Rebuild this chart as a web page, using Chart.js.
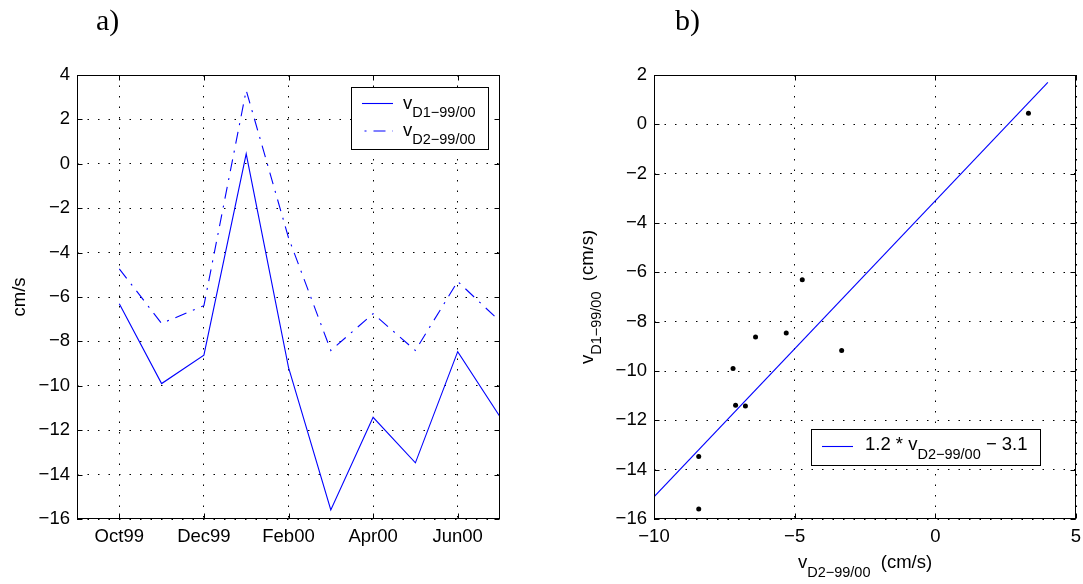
<!DOCTYPE html>
<html>
<head>
<meta charset="utf-8">
<script src="https://cdn.jsdelivr.net/npm/chart.js@4"></script>
<style>
  html, body { margin: 0; padding: 0; background: #fff; }
  body { width: 1083px; height: 584px; position: relative; overflow: hidden; }
  #ca { position: absolute; left: 0; top: 0; }
  #cb { position: absolute; left: 583px; top: 0; }
</style>
</head>
<body>
<canvas id="ca" width="583" height="584"></canvas>
<canvas id="cb" width="500" height="584"></canvas>
<script>
// Monthly velocities at the two deployments, Oct 1999 - Jul 2000 (cm/s)
const months = ['Oct99', 'Nov99', 'Dec99', 'Jan00', 'Feb00', 'Mar00', 'Apr00', 'May00', 'Jun00', 'Jul00'];
const tickMonths = ['Oct99', 'Dec99', 'Feb00', 'Apr00', 'Jun00'];
const vD1 = [-6.3, -9.9, -8.62, 0.45, -9.17, -15.59, -11.42, -13.47, -8.46, -11.39];
const vD2 = [-4.73, -7.19, -6.39, 3.31, -3.33, -8.41, -6.75, -8.41, -5.3, -7.1];

// Linear fit of D1 against D2
const fitSlope = 1.2;
const fitIntercept = -3.1;
const fitX = [-10, 4];

// Axis ranges
const yRangeA = [-16, 4];
const yRangeB = [-16, 2];
const xRangeB = [-10, 5];

const BLUE = '#0000ff';
const SANS = '"Liberation Sans", Arial, Helvetica, sans-serif';
const MAIN_SIZE = 18.5;
const SUB_SIZE = 14.5;
const MAIN = MAIN_SIZE + 'px ' + SANS;
const SUB = SUB_SIZE + 'px ' + SANS;
const SUB_DROP = 8.5;
const DASH_DOT = [12, 7, 2, 7];
const TICK_LEN = 5;

const minus = v => String(v).replace('-', '\u2212');

// Draws a run of text pieces, some of them as subscripts
function richText(ctx, runs, x, y, align) {
  let w = 0;
  runs.forEach(([t, s]) => { ctx.font = s ? SUB : MAIN; w += ctx.measureText(t).width; });
  let cx = align === 'center' ? x - w / 2 : x;
  ctx.textAlign = 'left';
  ctx.textBaseline = 'alphabetic';
  runs.forEach(([t, s]) => {
    ctx.font = s ? SUB : MAIN;
    ctx.fillText(t, cx, y + (s ? SUB_DROP : 0));
    cx += ctx.measureText(t).width;
  });
}

// Solid axes box with inward tick marks on all four sides
function drawFrame(chart) {
  const { ctx, chartArea: a, scales } = chart;
  const L = Math.round(a.left) + 0.5, R = Math.round(a.right) - 0.5;
  const T = Math.round(a.top) + 0.5, B = Math.round(a.bottom) - 0.5;
  ctx.save();
  ctx.strokeStyle = '#000';
  ctx.lineWidth = 1;
  ctx.setLineDash([]);
  ctx.beginPath();
  scales.x.ticks.forEach(t => {
    const px = Math.round(scales.x.getPixelForValue(t.value)) + 0.5;
    ctx.moveTo(px, B); ctx.lineTo(px, B - TICK_LEN);
    ctx.moveTo(px, T); ctx.lineTo(px, T + TICK_LEN);
  });
  scales.y.ticks.forEach(t => {
    const py = Math.round(scales.y.getPixelForValue(t.value)) + 0.5;
    ctx.moveTo(L, py); ctx.lineTo(L + TICK_LEN, py);
    ctx.moveTo(R, py); ctx.lineTo(R - TICK_LEN, py);
  });
  ctx.stroke();
  ctx.strokeRect(L, T, R - L, B - T);
  ctx.restore();
}

function legendBox(ctx, x, y, w, h) {
  ctx.fillStyle = '#fff';
  ctx.fillRect(x, y, w, h);
  ctx.strokeStyle = '#000';
  ctx.lineWidth = 1;
  ctx.setLineDash([]);
  ctx.strokeRect(x + 0.5, y + 0.5, w, h);
}

function sample(ctx, ds, x1, x2, y, dashOffset) {
  ctx.save();
  ctx.strokeStyle = ds.borderColor;
  ctx.lineWidth = ds.borderWidth;
  ctx.setLineDash(ds.borderDash || []);
  ctx.lineDashOffset = dashOffset || 0;
  ctx.beginPath();
  ctx.moveTo(x1, y); ctx.lineTo(x2, y);
  ctx.stroke();
  ctx.restore();
}

const gridOpts = { color: '#000', lineWidth: 1, drawTicks: false };
const borderOpts = { display: false, dash: [1.5, 9] };
const tickFont = { family: SANS, size: MAIN_SIZE };

// a) time series
const panelA = {
  id: 'panelA',
  afterDraw(chart) {
    const ctx = chart.ctx;
    const a = chart.chartArea;
    drawFrame(chart);
    ctx.save();
    // legend
    const ds = chart.data.datasets;
    legendBox(ctx, 351, 87, 137, 62);
    sample(ctx, ds[0], 362, 393, 103.5);
    sample(ctx, ds[1], 362, 393, 131, 16.5);
    ctx.fillStyle = '#000';
    richText(ctx, [['v', false], ['D1\u221299/00', true]], 403, 108.5, 'left');
    richText(ctx, [['v', false], ['D2\u221299/00', true]], 403, 135.5, 'left');
    // y-axis title
    ctx.save();
    ctx.translate(25, (a.top + a.bottom) / 2);
    ctx.rotate(-Math.PI / 2);
    richText(ctx, [['cm/s', false]], 0, 0, 'center');
    ctx.restore();
    // panel letter
    ctx.font = '30px "Liberation Serif", "Times New Roman", serif';
    ctx.textAlign = 'left';
    ctx.textBaseline = 'alphabetic';
    ctx.fillText('a)', 96, 29.5);
    ctx.restore();
  }
};

new Chart(document.getElementById('ca'), {
  type: 'line',
  data: {
    datasets: [
      { label: 'vD1', data: vD1.map((y, i) => ({ x: i, y })), borderColor: BLUE, borderWidth: 1.1,
        pointRadius: 0, fill: false, tension: 0 },
      { label: 'vD2', data: vD2.map((y, i) => ({ x: i, y })), borderColor: BLUE, borderWidth: 1.1,
        borderDash: DASH_DOT, pointRadius: 0, fill: false, tension: 0 }
    ]
  },
  options: {
    responsive: false, animation: false, devicePixelRatio: 1,
    layout: { padding: { left: 0, right: 83, top: 75, bottom: 0 } },
    plugins: { legend: { display: false }, tooltip: { enabled: false }, title: { display: false } },
    scales: {
      x: {
        type: 'linear', min: -1, max: months.length - 1,
        afterBuildTicks: s => { s.ticks = tickMonths.map(m => ({ value: months.indexOf(m) })); },
        ticks: { callback: v => months[v], font: tickFont, color: '#000', padding: 7, maxRotation: 0, autoSkip: false },
        grid: gridOpts, border: borderOpts,
        afterFit: s => { s.height = 65; s.paddingLeft = 0; s.paddingRight = 0; }
      },
      y: {
        min: yRangeA[0], max: yRangeA[1],
        ticks: { stepSize: 2, callback: minus, font: tickFont, color: '#000', padding: 7 },
        grid: gridOpts, border: borderOpts,
        afterFit: s => { s.width = 77; s.paddingTop = 0; s.paddingBottom = 0; }
      }
    }
  },
  plugins: [panelA]
});

// b) scatter of D1 against D2 with the fitted line
const panelB = {
  id: 'panelB',
  afterDraw(chart) {
    const ctx = chart.ctx;
    const a = chart.chartArea;
    drawFrame(chart);
    ctx.save();
    const fit = chart.data.datasets[1];
    legendBox(ctx, 228, 429, 229, 36);
    sample(ctx, fit, 239, 270, 446.5);
    ctx.fillStyle = '#000';
    richText(ctx, [[fitSlope + ' * v', false], ['D2\u221299/00', true],
                   [' \u2212 ' + Math.abs(fitIntercept), false]], 282, 450, 'left');
    // x-axis title
    richText(ctx, [['v', false], ['D2\u221299/00', true], ['  (cm/s)', false]],
             (a.left + a.right) / 2, 568, 'center');
    // y-axis title
    ctx.save();
    ctx.translate(9.7, (a.top + a.bottom) / 2);
    ctx.rotate(-Math.PI / 2);
    richText(ctx, [['v', false], ['D1\u221299/00', true], ['  (cm/s)', false]], 0, 0, 'center');
    ctx.restore();
    // panel letter
    ctx.font = '30px "Liberation Serif", "Times New Roman", serif';
    ctx.textAlign = 'left';
    ctx.textBaseline = 'alphabetic';
    ctx.fillText('b)', 92, 29.5);
    ctx.restore();
  }
};

new Chart(document.getElementById('cb'), {
  type: 'scatter',
  data: {
    datasets: [
      { label: 'points', data: vD2.map((x, i) => ({ x, y: vD1[i] })), pointRadius: 2.5,
        pointBackgroundColor: '#000', pointBorderWidth: 0, showLine: false },
      { label: 'fit', type: 'line', data: fitX.map(x => ({ x, y: fitSlope * x + fitIntercept })),
        borderColor: BLUE, borderWidth: 1.1, pointRadius: 0, showLine: true, fill: false, tension: 0 }
    ]
  },
  options: {
    responsive: false, animation: false, devicePixelRatio: 1,
    layout: { padding: { left: 0, right: 7, top: 75, bottom: 0 } },
    plugins: { legend: { display: false }, tooltip: { enabled: false }, title: { display: false } },
    scales: {
      x: {
        type: 'linear', min: xRangeB[0], max: xRangeB[1],
        ticks: { stepSize: 5, callback: minus, font: tickFont, color: '#000', padding: 7, maxRotation: 0 },
        grid: gridOpts, border: borderOpts,
        afterFit: s => { s.height = 65; s.paddingLeft = 0; s.paddingRight = 0; }
      },
      y: {
        min: yRangeB[0], max: yRangeB[1],
        ticks: { stepSize: 2, callback: minus, font: tickFont, color: '#000', padding: 7 },
        grid: gridOpts, border: borderOpts,
        afterFit: s => { s.width = 71; s.paddingTop = 0; s.paddingBottom = 0; }
      }
    }
  },
  plugins: [panelB]
});
</script>
</body>
</html>
